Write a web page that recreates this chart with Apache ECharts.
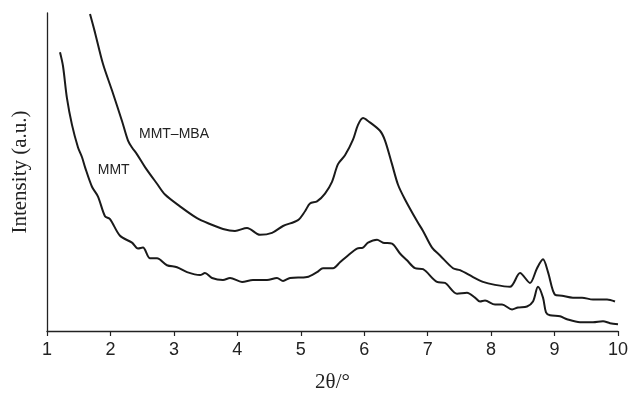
<!DOCTYPE html>
<html>
<head>
<meta charset="utf-8">
<script src="https://cdn.jsdelivr.net/npm/echarts@6/dist/echarts.min.js"></script>
<style>html,body{margin:0;padding:0;background:#fff}#c{width:631px;height:398px}</style>
</head>
<body>
<div id="c"></div>
<script>
var xTicks = [1, 2, 3, 4, 5, 6, 7, 8, 9, 10];
var mbaX = [1.678,1.757,1.883,2.025,2.182,2.277,2.340,2.419,2.545,2.734,2.860,3.096,3.364,3.569,3.774,3.963,4.153,4.357,4.547,4.720,4.956,5.067,5.145,5.256,5.382,5.492,5.587,5.697,5.823,5.902,5.981,6.060,6.249,6.328,6.438,6.533,6.643,6.832,6.927,7.069,7.195,7.400,7.510,7.715,7.872,8.062,8.298,8.456,8.613,8.724,8.818,8.897,9.007,9.118,9.291,9.433,9.606,9.827,9.953];
var mbaY = [323,304,272,245,214,194,187,180,167,150,139,127,115,109,104,102,105,98,100,107,113,122,130,132,140,152,170,179,195,210,217,214,204,194,170,149,134,112,102,85,77,64,62,55,50,47,45,59,49,64,73,60,37,36,34,34,32,32,30];
var mmtX = [1.205,1.252,1.315,1.394,1.489,1.552,1.599,1.709,1.804,1.914,1.993,2.151,2.340,2.434,2.513,2.624,2.734,2.891,3.049,3.207,3.412,3.490,3.601,3.774,3.885,4.074,4.247,4.468,4.625,4.720,4.830,5.098,5.256,5.350,5.508,5.618,5.744,5.886,5.981,6.060,6.202,6.296,6.438,6.564,6.674,6.800,6.927,7.147,7.273,7.463,7.620,7.746,7.825,7.904,8.062,8.172,8.330,8.424,8.566,8.660,8.739,8.818,8.865,8.928,9.086,9.196,9.401,9.606,9.764,9.874,10.0];
var mmtY = [284,270,237,210,187,177,167,147,137,117,114,97,90,84,85,74,74,67,65,60,57,59,54,52,54,50,52,52,54,51,54,55,60,64,64,70,77,84,85,90,93,90,89,79,72,64,63,50,49,38,39,34,30,31,27,27,22,24,25,30,45,34,19,16,15,12,9,9,10,8,7];
var seriesNames = ['MMT\u2013MBA', 'MMT'];
var labelPos = [[2.45, 204], [1.80, 167]];

function zip(a, b) { return a.map(function (v, i) { return [v, b[i]]; }); }

var chart = echarts.init(document.getElementById('c'), null, {renderer: 'canvas'});
var lineStyle = {color: '#1a1a1a', width: 2};
chart.setOption({
  animation: false,
  backgroundColor: '#fff',
  grid: {left: 47, right: 13, top: 13, bottom: 61},
  xAxis: {
    type: 'value', min: 1, max: 10, interval: 1,
    name: '2\u03b8/\u00b0', nameLocation: 'middle', nameGap: 41,
    nameTextStyle: {fontFamily: 'Liberation Serif', fontSize: 21, color: '#222'},
    axisLine: {show: true, onZero: false, lineStyle: {color: '#222', width: 1.3}},
    axisTick: {show: true, inside: false, length: 5, lineStyle: {color: '#222', width: 1.2}},
    axisLabel: {margin: 10, fontFamily: 'Liberation Sans', fontSize: 18, color: '#222',
      formatter: function (v) { return xTicks.indexOf(v) >= 0 ? String(v) : ''; }},
    splitLine: {show: false}
  },
  yAxis: {
    type: 'value', min: 0, max: 324,
    name: 'Intensity (a.u.)', nameLocation: 'middle', nameGap: 16,
    nameTextStyle: {fontFamily: 'Liberation Serif', fontSize: 21, color: '#222'},
    axisLine: {show: true, lineStyle: {color: '#222', width: 1.3}},
    axisTick: {show: false}, axisLabel: {show: false}, splitLine: {show: false}
  },
  series: [
    {name: seriesNames[0], type: 'line', data: zip(mbaX, mbaY), showSymbol: false, smooth: 0.3, lineStyle: lineStyle, clip: true},
    {name: seriesNames[1], type: 'line', data: zip(mmtX, mmtY), showSymbol: false, smooth: 0.3, lineStyle: lineStyle, clip: true}
  ]
});
var g = labelPos.map(function (p, i) {
  var px = chart.convertToPixel({gridIndex: 0}, p);
  return {type: 'text', left: px[0], top: px[1] - 4,
    style: {text: seriesNames[i], fontFamily: 'Liberation Sans', fontSize: 14, fill: '#222'}};
});
chart.setOption({graphic: g});
</script>
</body>
</html>
